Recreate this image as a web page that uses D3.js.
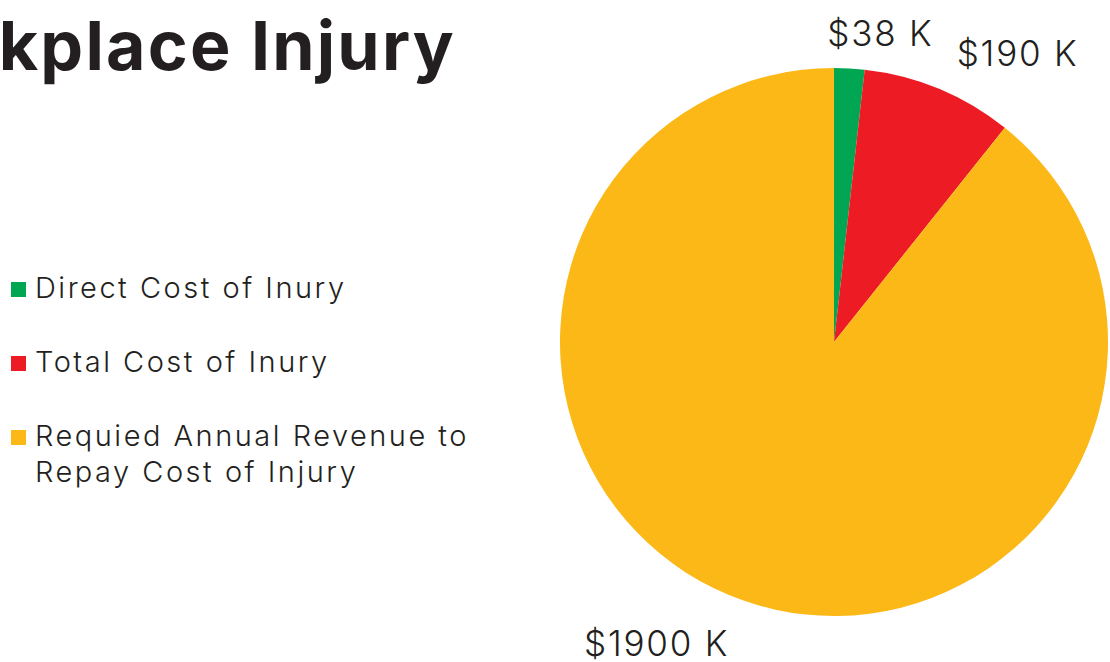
<html>
<head>
  <meta charset="UTF-8">
  <title>Workplace Injury</title>
  <script src="https://cdn.jsdelivr.net/npm/d3@7"></script>
  <style>
    body { margin: 0; background: #fff; }
    text { font-family: Inter, "Open Sans", sans-serif; fill: #231f20; }
  </style>
</head>
<body>
<svg width="1110" height="662"></svg>
<script>
// data
var categories = ["Direct Cost of Inury", "Total Cost of Inury", "Requied Annual Revenue to|Repay Cost of Injury"];
var values = [38, 190, 1900];
var valueLabels = ["$38 K", "$190 K", "$1900 K"];
var colors = ["#00a651", "#ed1c24", "#fbb817"];

var svg = d3.select("svg");
var width = 1110, height = 662;
var cx = 834, cy = 342, radius = 274;

// title (cut off at the top-left in the original)
svg.append("text")
    .attr("x", 456)
    .attr("y", 70)
    .attr("text-anchor", "end")
    .style("font-size", "68px")
    .style("font-weight", 700)
    .style("letter-spacing", "2.2px")
    .text("Workplace Injury");

var pie = d3.pie().sort(null).value(function(d) { return d; });
var arcs = pie(values);
var arc = d3.arc().innerRadius(0).outerRadius(radius);
var labelArc = d3.arc().innerRadius(310).outerRadius(310);

var g = svg.append("g").attr("transform", "translate(" + cx + "," + cy + ")");

g.selectAll("path.slice")
    .data(arcs)
    .enter().append("path")
    .attr("class", "slice")
    .attr("d", arc)
    .attr("fill", function(d, i) { return colors[i]; });

// nudges so the labels sit where the original put them
var labelNudge = [[29, 0], [65, -3], [-75, 8]];

g.selectAll("text.val")
    .data(arcs)
    .enter().append("text")
    .attr("class", "val")
    .attr("x", function(d, i) { return labelArc.centroid(d)[0] + labelNudge[i][0]; })
    .attr("y", function(d, i) { return labelArc.centroid(d)[1] + labelNudge[i][1]; })
    .attr("text-anchor", "middle")
    .attr("dominant-baseline", "central")
    .style("font-size", "35px")
    .style("font-weight", 300)
    .style("letter-spacing", "1.8px")
    .text(function(d, i) { return valueLabels[i]; });

// legend
var legendY = d3.scalePoint().domain(d3.range(categories.length)).range([290, 438]);

var legend = svg.selectAll("g.legend")
    .data(categories)
    .enter().append("g")
    .attr("class", "legend")
    .attr("transform", function(d, i) { return "translate(11," + legendY(i) + ")"; });

legend.append("rect")
    .attr("x", 0)
    .attr("y", -8)
    .attr("width", 15)
    .attr("height", 15)
    .attr("fill", function(d, i) { return colors[i]; });

legend.append("text")
    .attr("x", 24)
    .attr("y", 8)
    .style("font-size", "29px")
    .style("font-weight", 300)
    .style("letter-spacing", "2.5px")
    .each(function(d) {
        var t = d3.select(this);
        d.split("|").forEach(function(line, k) {
            t.append("tspan")
                .attr("x", 24)
                .attr("dy", k === 0 ? 0 : 36)
                .text(line);
        });
    });
</script>
</body>
</html>
